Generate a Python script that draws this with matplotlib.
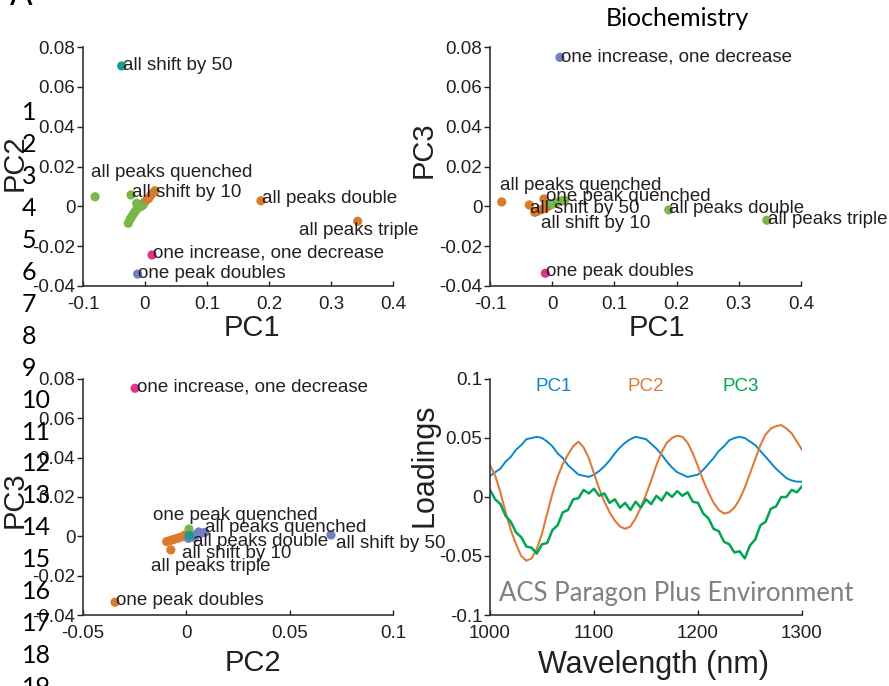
import numpy as np
import matplotlib
matplotlib.use("Agg")
from matplotlib import pyplot as plt

plt.rcParams['font.family'] = ['Liberation Sans', 'DejaVu Sans']
plt.rcParams['axes.unicode_minus'] = False

TXT = '#231f20'
col = {'teal': '#1a9c8a', 'green': '#7ab648', 'orange': '#d97b2b',
       'blue': '#7080c0', 'pink': '#e0338a'}

# ---- scores: PC1 vs PC2
p1_x = [-0.0376, -0.001, -0.0806, -0.0226, -0.0134, -0.0269, -0.024, -0.021, -0.018, -0.015,
        -0.012, -0.009, -0.006, -0.003, 0.0027, 0.006, 0.009, 0.012, 0.0161, 0.187, 0.343,
        0.0113, -0.0119]
p1_y = [0.0705, 0.002, 0.0048, 0.0057, 0.0015, -0.0085, -0.0065, -0.005, -0.0035, -0.0022,
        -0.001, -0.0002, 0.0, 0.0007, 0.0032, 0.004, 0.0055, 0.0065, 0.0078, 0.0028, -0.0075,
        -0.0244, -0.034]
p1_c = ['teal', 'teal'] + ['green'] * 12 + ['orange'] * 7 + ['pink', 'blue']
p1_lab = ['all shift by 50', 'all peaks quenched', 'all shift by 10', 'all peaks double',
          'all peaks triple', 'one increase, one decrease', 'one peak doubles']
p1_lab_x = [-0.036, -0.087, -0.0205, 0.188, 0.249, 0.0124, -0.0108]
p1_lab_y = [0.0705, 0.0171, 0.0068, 0.0037, -0.0122, -0.0236, -0.0336]

# ---- scores: PC1 vs PC3
p2_x = [0.0125, -0.0812, -0.0368, -0.0132, -0.028, -0.024, -0.02, -0.016, -0.012, -0.008,
        -0.005, -0.0016, 0.0, 0.004, 0.008, 0.012, 0.016, 0.02, 0.1873, 0.345, -0.011]
p2_y = [0.0748, 0.0022, 0.0007, 0.0037, -0.003, -0.0025, -0.002, -0.0015, -0.001, -0.0003,
        0.0003, 0.0012, 0.001, 0.0015, 0.002, 0.0025, 0.0028, 0.003, -0.0018, -0.007, -0.0336]
p2_c = ['blue'] + ['orange'] * 10 + ['teal'] + ['green'] * 8 + ['pink']
p2_lab = ['one increase, one decrease', 'all peaks quenched', 'one peak quenched',
          'all shift by 50', 'all shift by 10', 'all peaks double', 'all peaks triple',
          'one peak doubles']
p2_lab_x = [0.0135, -0.084, -0.010, -0.0354, -0.0185, 0.188, 0.3465, -0.010]
p2_lab_y = [0.0749, 0.0107, 0.0048, -0.001, -0.0085, -0.001, -0.0064, -0.0328]

# ---- scores: PC2 vs PC3
p3_x = [-0.0248, 0.0013, -0.0095, -0.008, -0.0065, -0.005, -0.0035, -0.002, -0.0006, -0.0075,
        -0.0345, 0.001, 0.003, 0.005, 0.007, 0.009, 0.006, 0.004, 0.070, 0.0015]
p3_y = [0.0753, 0.0037, -0.0027, -0.0022, -0.0017, -0.0012, -0.0007, -0.0002, 0.0007, -0.0069,
        -0.0335, -0.001, 0.0, 0.001, 0.0015, 0.002, 0.0022, -0.0005, 0.0007, 0.0005]
p3_c = ['pink', 'green'] + ['orange'] * 9 + ['blue'] * 8 + ['teal']
p3_lab = ['one increase, one decrease', 'one peak quenched', 'all peaks quenched',
          'all peaks double', 'all shift by 50', 'all shift by 10', 'all peaks triple',
          'one peak doubles']
p3_lab_x = [-0.024, -0.0163, 0.009, 0.003, 0.0723, -0.0023, -0.0172, -0.0339]
p3_lab_y = [0.0761, 0.0108, 0.0044, -0.0024, -0.0035, -0.0086, -0.0151, -0.0327]

# ---- loadings
wl = np.arange(1000, 1301, 5)
pc1 = [0.018, 0.021, 0.024, 0.030, 0.034, 0.040, 0.044, 0.049, 0.050, 0.051,
       0.050, 0.047, 0.043, 0.037, 0.033, 0.027, 0.023, 0.019, 0.018, 0.017,
       0.019, 0.022, 0.026, 0.031, 0.037, 0.042, 0.046, 0.049, 0.051, 0.050,
       0.049, 0.045, 0.041, 0.036, 0.030, 0.025, 0.021, 0.019, 0.017, 0.018,
       0.019, 0.023, 0.028, 0.033, 0.039, 0.043, 0.048, 0.050, 0.051, 0.050,
       0.047, 0.044, 0.039, 0.034, 0.029, 0.024, 0.020, 0.016, 0.014, 0.013,
       0.013]
pc2 = [0.027, 0.018, 0.004, -0.013, -0.028, -0.040, -0.050, -0.054, -0.052, -0.044,
       -0.031, -0.014, 0.003, 0.017, 0.028, 0.036, 0.043, 0.047, 0.042, 0.033,
       0.020, 0.007, -0.004, -0.013, -0.020, -0.025, -0.027, -0.025, -0.018, -0.009,
       0.002, 0.014, 0.027, 0.038, 0.046, 0.050, 0.052, 0.051, 0.046, 0.037,
       0.026, 0.014, 0.004, -0.005, -0.011, -0.014, -0.013, -0.009, -0.002, 0.008,
       0.020, 0.032, 0.044, 0.053, 0.058, 0.060, 0.061, 0.058, 0.054, 0.047,
       0.040]
pc3 = [0.006, -0.002, -0.006, -0.016, -0.021, -0.030, -0.034, -0.042, -0.043, -0.048,
       -0.040, -0.039, -0.028, -0.024, -0.013, -0.011, -0.002, -0.001, 0.006, 0.003,
       0.007, 0.001, 0.003, -0.005, -0.002, -0.009, -0.005, -0.011, -0.004, -0.009,
       -0.002, -0.006, 0.001, -0.003, 0.004, 0.000, 0.005, 0.001, 0.004, -0.004,
       -0.005, -0.014, -0.018, -0.027, -0.029, -0.038, -0.040, -0.047, -0.046, -0.052,
       -0.041, -0.036, -0.024, -0.021, -0.010, -0.008, 0.000, 0.000, 0.006, 0.004,
       0.009]
line_cols = ['#0a88cc', '#e07a3c', '#00a651']
line_w = [1.4, 1.5, 1.8]

W, H = 889, 686
fig = plt.figure(figsize=(W / 100, H / 100), dpi=100)


def px_axes(l, t, r, b):
    return fig.add_axes([l / W, 1 - b / H, (r - l) / W, (b - t) / H])


def style(ax):
    for s in ['top', 'right']:
        ax.spines[s].set_visible(False)
    for s in ['left', 'bottom']:
        ax.spines[s].set_linewidth(1.2)
        ax.spines[s].set_color('#333333')
    ax.tick_params(axis='y', direction='out', length=4.5, width=1, pad=1,
                   labelsize=13.5, colors=TXT)
    ax.tick_params(axis='x', direction='in', length=3.5, width=1, pad=7,
                   labelsize=13.5, colors=TXT)


def scatter_panel(ax, xs, ys, cs, labs, lx, ly, xlim, xticks):
    ax.scatter(xs, ys, s=44, c=[col[c] for c in cs], linewidths=0, zorder=2)
    for t, x, y in zip(labs, lx, ly):
        ax.text(x, y, t, fontsize=13.5, color=TXT, ha='left', va='center', zorder=3)
    ax.set_xlim(xlim)
    ax.set_ylim(-0.04, 0.08)
    ax.set_xticks(xticks)
    ax.set_xticklabels([f'{v:g}' for v in xticks])
    yt = [-0.04, -0.02, 0, 0.02, 0.04, 0.06, 0.08]
    ax.set_yticks(yt)
    ax.set_yticklabels([f'{v:g}' for v in yt])
    style(ax)


ax1 = px_axes(83, 47, 393, 286)
scatter_panel(ax1, p1_x, p1_y, p1_c, p1_lab, p1_lab_x, p1_lab_y, (-0.1, 0.4),
              [-0.1, 0, 0.1, 0.2, 0.3, 0.4])
ax2 = px_axes(490, 47, 801, 286)
scatter_panel(ax2, p2_x, p2_y, p2_c, p2_lab, p2_lab_x, p2_lab_y, (-0.1, 0.4),
              [-0.1, 0, 0.1, 0.2, 0.3, 0.4])
ax3 = px_axes(83, 379, 393, 615)
scatter_panel(ax3, p3_x, p3_y, p3_c, p3_lab, p3_lab_x, p3_lab_y, (-0.05, 0.1),
              [-0.05, 0, 0.05, 0.1])

ax4 = px_axes(490, 379, 802, 615)
for vals, c, lw in zip([pc1, pc2, pc3], line_cols, line_w):
    ax4.plot(wl, vals, color=c, lw=lw)
for name, x, c in zip(['PC1', 'PC2', 'PC3'], [1061.5, 1150, 1241], line_cols):
    ax4.text(x, 0.0935, name, color=c, fontsize=13.5, ha='center', va='center')
ax4.set_xlim(1000, 1300)
ax4.set_ylim(-0.1, 0.1)
ax4.set_xticks([1000, 1100, 1200, 1300])
yt4 = [-0.1, -0.05, 0, 0.05, 0.1]
ax4.set_yticks(yt4)
ax4.set_yticklabels([f'{v:g}' for v in yt4])
style(ax4)
ax4.text(0.5 * (505 + 848) / W, 1 - 593 / H, 'ACS Paragon Plus Environment',
         transform=fig.transFigure, fontsize=18.5, color='#808080', family='Lato',
         ha='center', va='center', zorder=5)

# axis labels
big = 21
fig.text(252 / W, 1 - 328 / H, 'PC1', fontsize=big, ha='center', va='center', color=TXT)
fig.text(657 / W, 1 - 328 / H, 'PC1', fontsize=big, ha='center', va='center', color=TXT)
fig.text(253 / W, 1 - 663 / H, 'PC2', fontsize=big, ha='center', va='center', color=TXT)
fig.text(653 / W, 1 - 665 / H, 'Wavelength (nm)', fontsize=22, ha='center', va='center', color=TXT)
fig.text(15 / W, 1 - 163 / H, 'PC2', fontsize=big, rotation=90, ha='center', va='center', color=TXT)
fig.text(424 / W, 1 - 150 / H, 'PC3', fontsize=big, rotation=90, ha='center', va='center', color=TXT)
fig.text(15 / W, 1 - 500 / H, 'PC3', fontsize=big, rotation=90, ha='center', va='center', color=TXT)
fig.text(424 / W, 1 - 465 / H, 'Loadings', fontsize=22, rotation=90, ha='center', va='center', color=TXT)
fig.text(677 / W, 1 - 18 / H, 'Biochemistry', fontsize=18, family='Lato', ha='center',
         va='center', color='black')
fig.text(10 / W, 1 - 5 / H, 'A', fontsize=24, family='Lato', ha='left', va='baseline',
         color='black')

# manuscript line numbers
for i in range(1, 20):
    fig.text(22 / W, 1 - (113 + (i - 1) * 31.9) / H, str(i), fontsize=18, family='Lato',
             ha='left', va='center', color='black')

fig.savefig('out.png', dpi=100)
